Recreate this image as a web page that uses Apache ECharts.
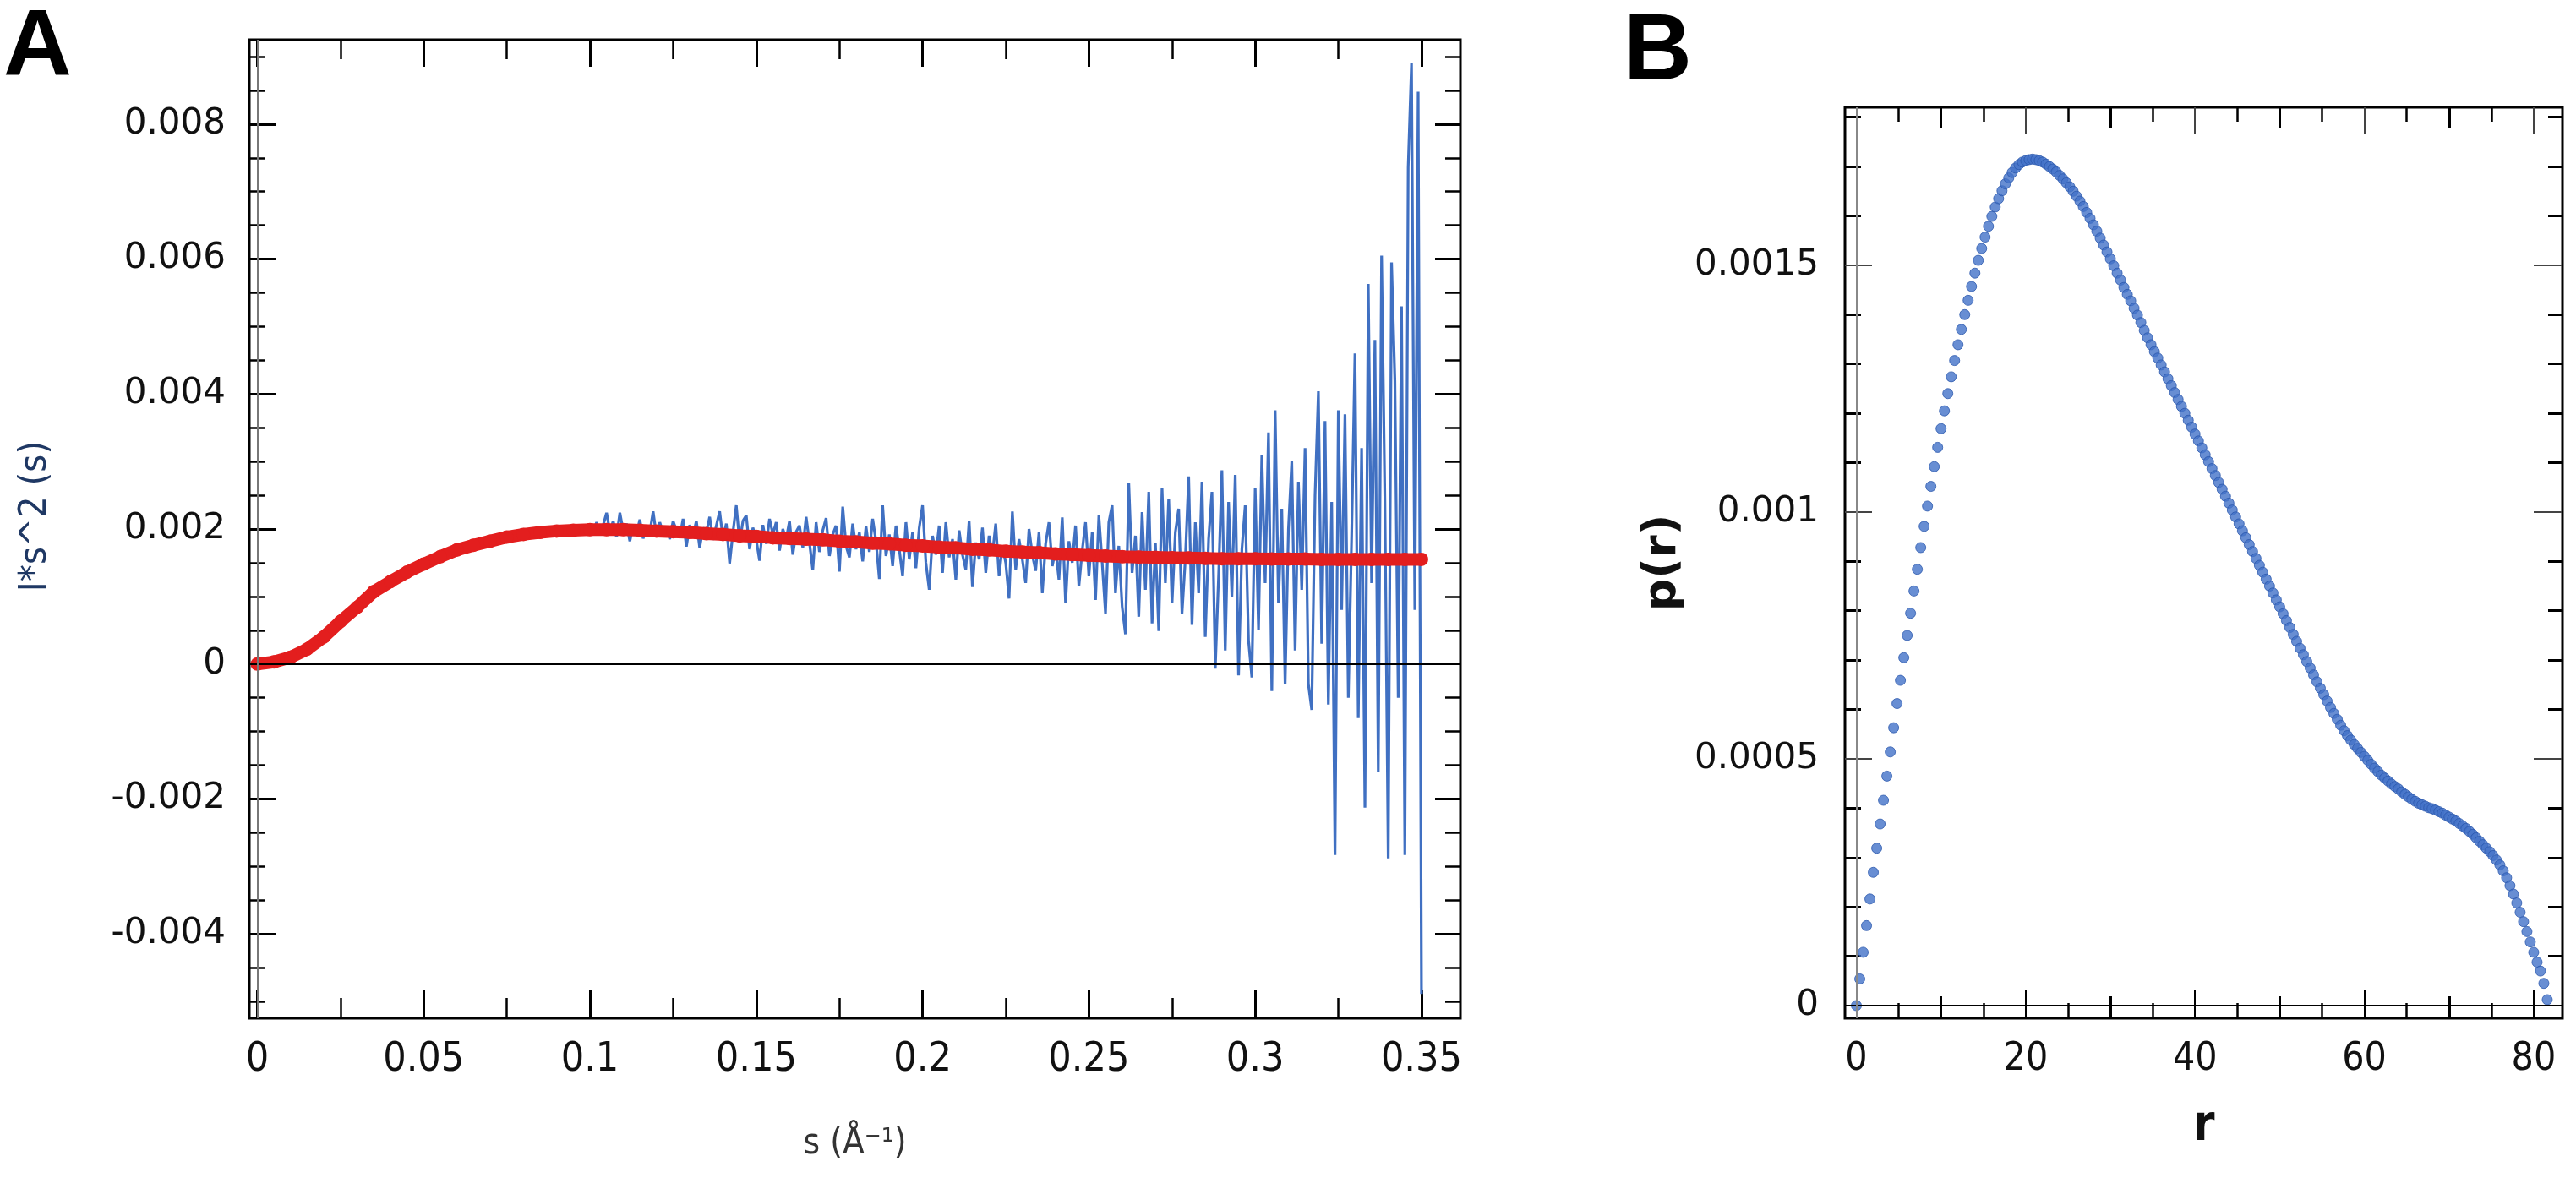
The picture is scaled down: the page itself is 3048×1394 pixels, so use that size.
<!DOCTYPE html>
<html>
<head>
<meta charset="utf-8">
<script src="https://cdn.jsdelivr.net/npm/echarts@6/dist/echarts.min.js"></script>
<style>
html,body{margin:0;padding:0;background:#fff;}
#main{width:3048px;height:1394px;}
</style>
</head>
<body>
<div id="main"></div>
<script>
// ---------------- DATA: panel A (Kratky plot) ----------------
const sBlue = [
0,0.002,0.004,0.006,0.008,0.01,0.012,0.014,0.016,0.018,
0.02,0.022,0.024,0.026,0.028,0.03,0.032,0.034,0.036,0.038,
0.04,0.042,0.044,0.046,0.048,0.05,0.052,0.054,0.056,0.058,
0.06,0.062,0.064,0.066,0.068,0.07,0.072,0.074,0.076,0.078,
0.08,0.082,0.084,0.086,0.088,0.09,0.092,0.094,0.096,0.098,
0.1,0.101,0.102,0.103,0.104,0.105,0.106,0.107,0.108,0.109,
0.11,0.111,0.112,0.113,0.114,0.115,0.116,0.117,0.118,0.119,
0.12,0.121,0.122,0.123,0.124,0.125,0.126,0.127,0.128,0.129,
0.13,0.131,0.132,0.133,0.134,0.135,0.136,0.137,0.138,0.139,
0.14,0.141,0.142,0.143,0.144,0.145,0.146,0.147,0.148,0.149,
0.15,0.151,0.152,0.153,0.154,0.155,0.156,0.157,0.158,0.159,
0.16,0.161,0.162,0.163,0.164,0.165,0.166,0.167,0.168,0.169,
0.17,0.171,0.172,0.173,0.174,0.175,0.176,0.177,0.178,0.179,
0.18,0.181,0.182,0.183,0.184,0.185,0.186,0.187,0.188,0.189,
0.19,0.191,0.192,0.193,0.194,0.195,0.196,0.197,0.198,0.199,
0.2,0.201,0.202,0.203,0.204,0.205,0.206,0.207,0.208,0.209,
0.21,0.211,0.212,0.213,0.214,0.215,0.216,0.217,0.218,0.219,
0.22,0.221,0.222,0.223,0.224,0.225,0.226,0.227,0.228,0.229,
0.23,0.231,0.232,0.233,0.234,0.235,0.236,0.237,0.238,0.239,
0.24,0.241,0.242,0.243,0.244,0.245,0.246,0.247,0.248,0.249,
0.25,0.251,0.252,0.253,0.254,0.255,0.256,0.257,0.258,0.259,
0.26,0.261,0.262,0.263,0.264,0.265,0.266,0.267,0.268,0.269,
0.27,0.271,0.272,0.273,0.274,0.275,0.276,0.277,0.278,0.279,
0.28,0.281,0.282,0.283,0.284,0.285,0.286,0.287,0.288,0.289,
0.29,0.291,0.292,0.293,0.294,0.295,0.296,0.297,0.298,0.299,
0.3,0.301,0.302,0.303,0.304,0.305,0.306,0.307,0.308,0.309,
0.31,0.311,0.312,0.313,0.314,0.315,0.316,0.317,0.318,0.319,
0.32,0.321,0.322,0.323,0.324,0.325,0.326,0.327,0.328,0.329,
0.33,0.331,0.332,0.333,0.334,0.335,0.336,0.337,0.338,0.339,
0.34,0.341,0.342,0.343,0.344,0.345,0.346,0.347,0.348,0.349,
0.35
];
// measured I*s^2, in units of 1e-3
const iBlueE3 = [
0,0.01,0.03,0.04,0.07,0.10,0.14,0.19,0.26,0.32,
0.40,0.49,0.58,0.67,0.76,0.85,0.94,1.03,1.10,1.16,
1.22,1.28,1.34,1.38,1.44,1.48,1.53,1.57,1.62,1.65,
1.69,1.72,1.75,1.78,1.80,1.83,1.86,1.87,1.92,1.88,
1.94,1.91,1.97,1.93,2.00,1.95,2.01,1.96,2.02,1.96,
2.02,1.95,2.10,1.93,2.06,2.24,1.96,2.12,1.88,2.24,
1.97,2.08,1.82,2.05,1.92,2.14,1.86,2.02,1.95,2.26,
1.90,2.10,1.94,2.04,1.85,2.12,1.98,1.88,2.15,1.74,
2.06,1.90,2.12,1.72,2.02,1.95,2.18,1.84,2.05,2.26,
1.86,2.08,1.49,1.95,2.35,1.80,2.12,2.20,1.70,2.02,
1.84,1.53,2.06,1.78,2.15,1.92,2.10,1.68,2.00,1.85,
2.12,1.62,1.96,2.05,1.72,2.18,1.80,1.39,2.10,1.66,
1.98,2.16,1.60,1.92,2.05,1.37,2.33,1.75,1.58,2.08,
1.70,1.95,1.52,2.04,1.66,2.15,1.82,1.26,2.35,1.60,
1.92,1.45,2.05,1.70,1.30,2.10,1.55,1.95,1.42,2.02,
2.35,1.50,1.10,1.90,1.62,2.05,1.35,2.10,1.58,1.85,
1.25,1.98,1.62,1.40,2.12,1.14,1.80,1.55,2.02,1.35,
1.90,1.62,2.08,1.30,1.75,1.50,0.97,2.26,1.40,1.85,
1.55,1.20,2.00,1.62,1.38,1.95,1.05,1.78,2.10,1.45,
1.70,1.25,2.17,0.90,1.82,1.50,2.05,1.15,1.68,2.10,
1.30,1.95,0.95,2.20,1.50,0.75,2.10,2.35,1.05,1.75,
0.85,0.44,2.68,1.35,1.90,0.70,2.25,1.10,2.55,0.60,
1.80,0.49,2.60,1.20,2.45,0.90,1.95,2.30,0.75,1.55,
2.78,0.58,2.10,1.05,2.70,0.40,1.85,2.55,-0.07,1.30,
2.87,0.20,2.40,1.00,2.80,-0.17,1.70,2.35,0.35,-0.20,
2.60,0.50,3.10,1.20,3.43,-0.40,3.76,0.90,2.30,-0.30,
2.00,3.00,0.20,2.70,1.10,3.20,-0.30,-0.68,2.50,4.04,
0.30,3.60,-0.60,2.40,-2.83,3.76,0.80,3.70,-0.50,1.90,
4.60,-0.80,3.20,-2.13,5.63,1.20,4.80,-1.60,6.05,2.40,
-2.88,5.95,4.20,-0.50,5.30,-2.83,7.36,8.90,0.80,8.48,
-4.89
];
const sFit = [
0,0.005,0.01,0.015,0.02,0.025,0.03,0.035,0.04,0.045,
0.05,0.055,0.06,0.065,0.07,0.075,0.08,0.085,0.09,0.095,
0.1,0.105,0.11,0.115,0.12,0.125,0.13,0.135,0.14,0.145,
0.15,0.155,0.16,0.165,0.17,0.175,0.18,0.185,0.19,0.195,
0.2,0.205,0.21,0.215,0.22,0.225,0.23,0.235,0.24,0.245,
0.25,0.255,0.26,0.265,0.27,0.275,0.28,0.285,0.29,0.295,
0.3,0.305,0.31,0.315,0.32,0.325,0.33,0.335,0.34,0.345,
0.35
];
// fitted I*s^2, in units of 1e-3
const iFitE3 = [
0,0.03,0.10,0.22,0.40,0.63,0.84,1.07,1.22,1.36,
1.48,1.59,1.69,1.76,1.82,1.88,1.92,1.95,1.97,1.98,
1.99,1.99,1.99,1.98,1.97,1.96,1.95,1.93,1.92,1.90,
1.89,1.87,1.86,1.85,1.84,1.82,1.81,1.79,1.78,1.76,
1.75,1.73,1.72,1.70,1.69,1.67,1.66,1.65,1.63,1.62,
1.61,1.60,1.59,1.585,1.58,1.575,1.57,1.565,1.56,1.56,
1.56,1.555,1.555,1.555,1.55,1.55,1.55,1.55,1.55,1.55,
1.55
];
const aXMajor = [0,0.05,0.1,0.15,0.2,0.25,0.3,0.35];
const aXLabels = ['0','0.05','0.1','0.15','0.2','0.25','0.3','0.35'];
const aXMinor = [0.025,0.075,0.125,0.175,0.225,0.275,0.325];
const aYMajor = [-0.004,-0.002,0,0.002,0.004,0.006,0.008];
const aYLabels = ['-0.004','-0.002','0','0.002','0.004','0.006','0.008'];
const aYMinor = [-0.005,-0.0045,-0.0035,-0.003,-0.0025,-0.0015,-0.001,-0.0005,0.0005,0.001,0.0015,0.0025,0.003,0.0035,0.0045,0.005,0.0055,0.0065,0.007,0.0075,0.0085,0.009];

// ---------------- DATA: panel B (pair distribution p(r)) ----------------
const rVals = [
0,0.4,0.8,1.2,1.6,2,2.4,2.8,3.2,3.6,
4,4.4,4.8,5.2,5.6,6,6.4,6.8,7.2,7.6,
8,8.4,8.8,9.2,9.6,10,10.4,10.8,11.2,11.6,
12,12.4,12.8,13.2,13.6,14,14.4,14.8,15.2,15.6,
16,16.4,16.8,17.2,17.6,18,18.4,18.8,19.2,19.6,
20,20.4,20.8,21.2,21.6,22,22.4,22.8,23.2,23.6,
24,24.4,24.8,25.2,25.6,26,26.4,26.8,27.2,27.6,
28,28.4,28.8,29.2,29.6,30,30.4,30.8,31.2,31.6,
32,32.4,32.8,33.2,33.6,34,34.4,34.8,35.2,35.6,
36,36.4,36.8,37.2,37.6,38,38.4,38.8,39.2,39.6,
40,40.4,40.8,41.2,41.6,42,42.4,42.8,43.2,43.6,
44,44.4,44.8,45.2,45.6,46,46.4,46.8,47.2,47.6,
48,48.4,48.8,49.2,49.6,50,50.4,50.8,51.2,51.6,
52,52.4,52.8,53.2,53.6,54,54.4,54.8,55.2,55.6,
56,56.4,56.8,57.2,57.6,58,58.4,58.8,59.2,59.6,
60,60.4,60.8,61.2,61.6,62,62.4,62.8,63.2,63.6,
64,64.4,64.8,65.2,65.6,66,66.4,66.8,67.2,67.6,
68,68.4,68.8,69.2,69.6,70,70.4,70.8,71.2,71.6,
72,72.4,72.8,73.2,73.6,74,74.4,74.8,75.2,75.6,
76,76.4,76.8,77.2,77.6,78,78.4,78.8,79.2,79.6,
80,80.4,80.8,81.2,81.6
];
// p(r), in units of 1e-6
const prE6 = [
0,54,108,162,216,270,319,368,416,465,
514,563,612,659,705,750,795,840,884,928,
971,1012,1052,1092,1131,1169,1205,1240,1274,1307,
1339,1370,1400,1429,1457,1484,1510,1534,1557,1579,
1599,1618,1635,1651,1665,1677,1688,1697,1704,1709,
1712,1714,1715,1714,1712,1709,1705,1700,1695,1689,
1682,1675,1667,1659,1650,1640,1630,1619,1607,1595,
1582,1569,1555,1541,1527,1513,1499,1484,1470,1455,
1441,1428,1413,1399,1384,1368,1353,1339,1325,1312,
1298,1284,1270,1256,1242,1228,1214,1200,1186,1172,
1158,1144,1130,1116,1102,1088,1074,1060,1046,1032,
1018,1004,990,976,962,948,934,920,906,892,
878,864,850,836,822,808,794,780,766,752,
738,724,711,697,684,670,656,643,630,617,
604,592,580,568,557,547,538,529,521,513,
505,497,489,481,474,467,461,455,449,444,
439,433,428,423,418,414,410,407,404,401,
399,396,393,390,386,382,378,374,369,364,
359,353,347,340,333,326,319,312,304,295,
285,273,259,243,226,208,189,170,150,129,
108,88,70,45,12
];
const bXMajor = [0,20,40,60,80];
const bXLabels = ['0','20','40','60','80'];
const bXMid = [10,30,50,70];
const bXMinor = [5,15,25,35,45,55,65,75];
const bYMajor = [0,0.0005,0.001,0.0015];
const bYLabels = ['0','0.0005','0.001','0.0015'];
const bYMinor = [0.0001,0.0002,0.0003,0.0004,0.0006,0.0007,0.0008,0.0009,0.0011,0.0012,0.0013,0.0014,0.0016,0.0017,0.0018];

// ---------------- CHART ----------------
const chart = echarts.init(document.getElementById('main'), null, {renderer:'canvas'});
const FONT_N = '"DejaVu Sans", sans-serif';
const FONT_C = '"DejaVu Sans Condensed", "Liberation Sans Narrow", "DejaVu Sans", sans-serif';

function lbl(values, labels){
  return function(v){
    for (let i=0;i<values.length;i++){ if (Math.abs(values[i]-v) < 1e-12) return labels[i]; }
    return String(v);
  };
}
function tickAxis(grid, pos, min, max, ticks, len, w, color, extra){
  const ax = {
    type:'value', gridIndex:grid, position:pos, min:min, max:max,
    axisLine:{show:false, onZero:false}, splitLine:{show:false},
    axisTick:{show:true, inside:true, length:len, customValues:ticks, lineStyle:{color:color, width:w}},
    axisLabel:{show:false}
  };
  return Object.assign(ax, extra || {});
}
const A_XMIN=-0.0024, A_XMAX=0.3617, A_YMIN=-0.00525, A_YMAX=0.00925;
const B_XMIN=-1.35, B_XMAX=83.4, B_YMIN=-0.0000257, B_YMAX=0.00182;

const xAxes = [
  tickAxis(0,'bottom',A_XMIN,A_XMAX,aXMajor,34,3,'#000',{
    axisLabel:{show:true, customValues:aXMajor, formatter:lbl(aXMajor,aXLabels), margin:26,
      fontFamily:FONT_C, fontSize:48, color:'#111'},
    name:'s (Å⁻¹)', nameLocation:'middle', nameGap:128, nameMoveOverlap:false,
    nameTextStyle:{fontFamily:FONT_C, fontSize:42, color:'#333'}
  }),
  tickAxis(0,'bottom',A_XMIN,A_XMAX,aXMinor,24,2.5,'#000'),
  tickAxis(0,'top',A_XMIN,A_XMAX,aXMajor,32,3,'#000'),
  tickAxis(0,'top',A_XMIN,A_XMAX,aXMinor,23,2.5,'#000'),
  tickAxis(1,'bottom',B_XMIN,B_XMAX,bXMajor,34,2,'#000',{
    axisLabel:{show:true, customValues:bXMajor, formatter:lbl(bXMajor,bXLabels), margin:26,
      fontFamily:FONT_C, fontSize:46, color:'#111'},
    name:'r', nameLocation:'middle', nameGap:100, nameMoveOverlap:false,
    nameTextStyle:{fontFamily:FONT_C, fontSize:58, fontWeight:'bold', color:'#111'}
  }),
  tickAxis(1,'bottom',B_XMIN,B_XMAX,bXMid,26,3,'#000'),
  tickAxis(1,'bottom',B_XMIN,B_XMAX,bXMinor,18,2.5,'#000'),
  tickAxis(1,'top',B_XMIN,B_XMAX,bXMajor,32,2,'#444'),
  tickAxis(1,'top',B_XMIN,B_XMAX,bXMid,25,3,'#000'),
  tickAxis(1,'top',B_XMIN,B_XMAX,bXMinor,17,2.5,'#000')
];
const yAxes = [
  tickAxis(0,'left',A_YMIN,A_YMAX,aYMajor,32,3,'#000',{
    axisLabel:{show:true, customValues:aYMajor, formatter:lbl(aYMajor,aYLabels), margin:28,
      fontFamily:FONT_N, fontSize:42, color:'#111'},
    name:'I*s^2 (s)', nameLocation:'middle', nameGap:230, nameRotate:90, nameMoveOverlap:false,
    nameTextStyle:{fontFamily:FONT_C, fontSize:45, color:'#1f3864', padding:[0,0,0,30]}
  }),
  tickAxis(0,'left',A_YMIN,A_YMAX,aYMinor,18,2.5,'#000'),
  tickAxis(0,'right',A_YMIN,A_YMAX,aYMajor,30,3,'#000'),
  tickAxis(0,'right',A_YMIN,A_YMAX,aYMinor,18,2.5,'#000'),
  tickAxis(1,'left',B_YMIN,B_YMAX,bYMajor,32,2,'#444',{
    axisLabel:{show:true, customValues:bYMajor, formatter:lbl(bYMajor,bYLabels), margin:31,
      fontFamily:FONT_N, fontSize:42, color:'#111'},
    name:'p(r)', nameLocation:'middle', nameGap:188, nameRotate:90, nameMoveOverlap:false,
    nameTextStyle:{fontFamily:FONT_N, fontSize:54, fontWeight:'bold', color:'#111'}
  }),
  tickAxis(1,'left',B_YMIN,B_YMAX,bYMinor,19,3,'#000'),
  tickAxis(1,'right',B_YMIN,B_YMAX,bYMajor,34,2,'#444'),
  tickAxis(1,'right',B_YMIN,B_YMAX,bYMinor,17,3,'#000')
];

const blueData = sBlue.map((s,i)=>[s, iBlueE3[i]/1000]);
const fitData = sFit.map((s,i)=>[s, iFitE3[i]/1000]);
const prData = rVals.map((r,i)=>[r, prE6[i]/1e6]);

const zeroLines = (gray)=>({
  silent:true, symbol:['none','none'], label:{show:false}, animation:false,
  data:[
    {yAxis:0, lineStyle:{color:'#000', width:2, type:'solid'}},
    {xAxis:0, lineStyle:{color:gray, width:2, type:'solid'}}
  ]
});

chart.setOption({
  backgroundColor:'#fff',
  animation:false,
  grid:[
    {left:295, top:47, width:1433, height:1158, show:true, borderColor:'#000', borderWidth:3, backgroundColor:'#fff', containLabel:false, outerBoundsMode:'none'},
    {left:2183, top:127, width:849, height:1078, show:true, borderColor:'#000', borderWidth:3, backgroundColor:'#fff', containLabel:false, outerBoundsMode:'none'}
  ],
  xAxis:xAxes,
  yAxis:yAxes,
  graphic:[
    {type:'text', left:4, top:2, style:{text:'A', font:'bold 112px "Liberation Sans", Arial, sans-serif', fill:'#000'}},
    {type:'text', left:1921, top:7, style:{text:'B', font:'bold 112px "Liberation Sans", Arial, sans-serif', fill:'#000'}}
  ],
  series:[
    {type:'line', xAxisIndex:0, yAxisIndex:0, data:blueData, showSymbol:false, z:2,
      lineStyle:{color:'#4070c2', width:3.2}, itemStyle:{color:'#4070c2'},
      markLine:zeroLines('#777')},
    {type:'line', xAxisIndex:0, yAxisIndex:0, data:fitData, z:3,
      symbol:'circle', symbolSize:16, showSymbol:true,
      lineStyle:{color:'#e31e1e', width:15}, itemStyle:{color:'#e31e1e'}},
    {type:'scatter', xAxisIndex:4, yAxisIndex:4, data:prData, z:3,
      symbol:'circle', symbolSize:12,
      itemStyle:{color:'#4272c8', borderColor:'#2a58ad', borderWidth:1},
      markLine:zeroLines('#888')}
  ]
});
</script>
</body>
</html>
